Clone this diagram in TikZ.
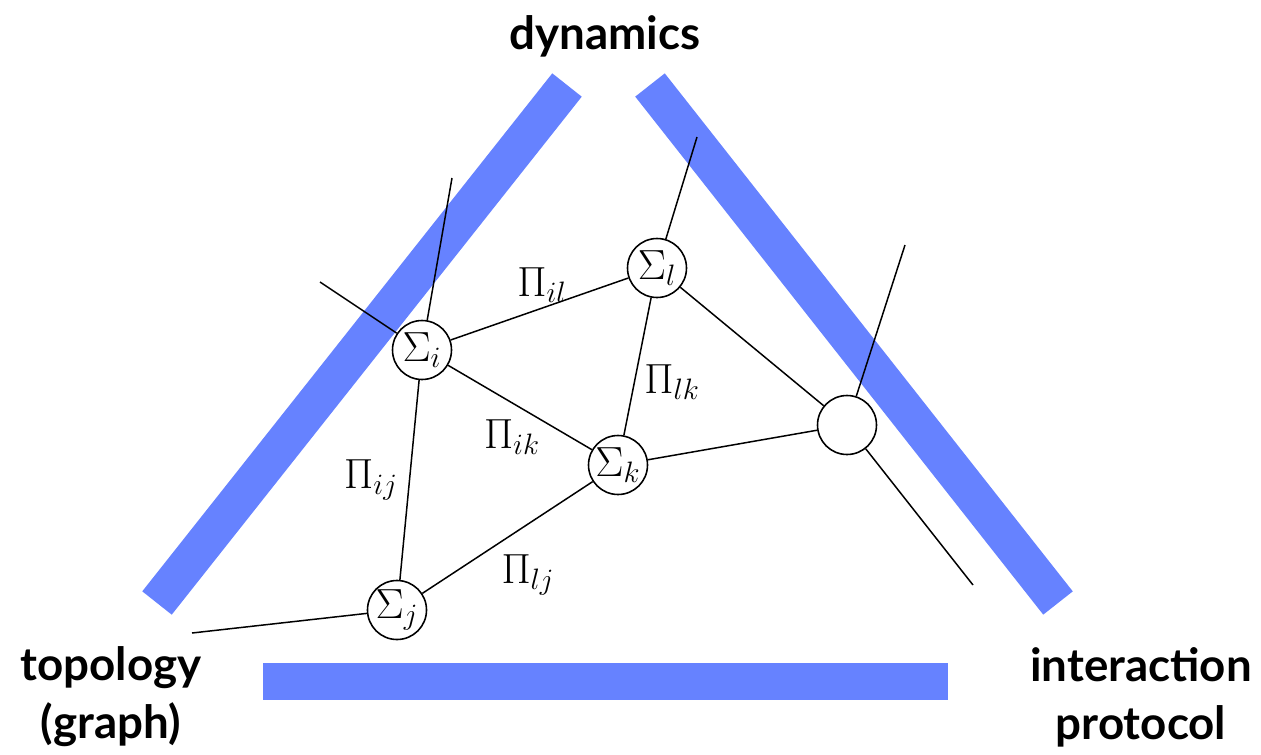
\RequirePackage{fix-cm}
\documentclass[tikz,border=0pt]{standalone}
\usepackage{amsmath, amssymb}
\usepackage{fontspec}
\usepackage{xcolor}
\usepackage{tikz}
\usetikzlibrary{arrows.meta, positioning, calc}
\newfontfamily\cornerfont{Lato}
\definecolor{BarBlue}{RGB}{102,130,255}
\tikzset{
  % Nodi del grafo
  agent/.style={circle,draw=black,line width=0.9pt,fill=white,minimum size=1.18cm,inner sep=0pt,
    font=\fontsize{24}{28}\selectfont},
  % Connessioni
  link/.style={line width=0.85pt,black},
  link label/.style={font=\fontsize{24}{28}\selectfont},
  % Barre blu
  bar/.style={BarBlue,line width=21.4pt,line cap=butt},
  corner/.style={font=\cornerfont\bfseries\fontsize{26}{33}\selectfont,align=center}
}
\begin{document}
\begin{tikzpicture}[x=0.02cm,y=-0.02cm]
  \useasboundingbox (0,0) rectangle (1261,754);
  % barre
  \draw[bar] (157,603) -- (567,85);
  \draw[bar] (650,85) -- (1058,603);
  \fill[BarBlue] (263,663) rectangle (948,700);
  % estremi liberi
  \coordinate (iup) at (452,178);
  \coordinate (ileft) at (320,282);
  \coordinate (lup) at (697,137);
  \coordinate (pup) at (905,245);
  \coordinate (pdown) at (973,585);
  \coordinate (jleft) at (192,633);
  % nodi
  \node[agent] (si) at (422,350) {$\Sigma_i$};
  \node[agent] (sl) at (657,268) {$\Sigma_l$};
  \node[agent] (sk) at (618,465) {$\Sigma_k$};
  \node[agent] (sj) at (397,610) {$\Sigma_j$};
  \node[agent] (sp) at (847,425) {};
  % archi
  \draw[link] (si) -- (iup);
  \draw[link] (si) -- (ileft);
  \draw[link] (sl) -- (lup);
  \draw[link] (sp) -- (pup);
  \draw[link] (sp) -- (pdown);
  \draw[link] (sj) -- (jleft);
  \draw[link] (si) -- (sl);
  \draw[link] (si) -- (sk);
  \draw[link] (si) -- (sj);
  \draw[link] (sl) -- (sk);
  \draw[link] (sk) -- (sj);
  \draw[link] (sl) -- (sp);
  \draw[link] (sk) -- (sp);
  % etichette
  \node[link label] at (542,285) {$\Pi_{il}$};
  \node[link label] at (672,382) {$\Pi_{lk}$};
  \node[link label] at (512,437) {$\Pi_{ik}$};
  \node[link label] at (371,480) {$\Pi_{ij}$};
  \node[link label] at (528,575) {$\Pi_{lj}$};
  % vertici
  \node[corner] (dyn) at (605,36) {dynamics};
  \node[corner] (topo) at (111,697) {topology\\(graph)};
  \node[corner] (inter) at (1141,697) {interaction\\protocol};
\end{tikzpicture}
\end{document}
